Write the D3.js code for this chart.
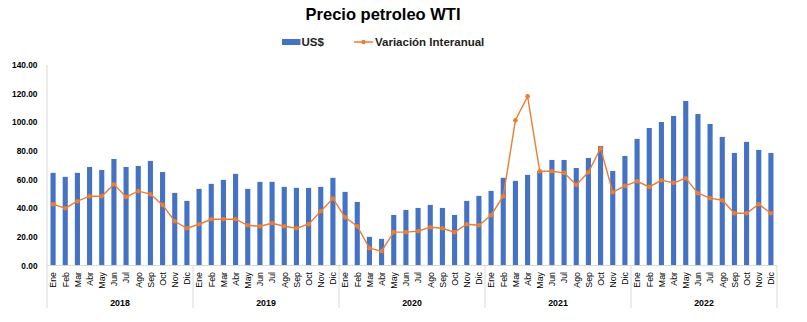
<!DOCTYPE html>
<html><head><meta charset="utf-8">
<script src="https://cdn.jsdelivr.net/npm/d3@7"></script>
<style>
html,body{margin:0;padding:0;background:#fff;}
svg{display:block;font-family:"Liberation Sans",Arial,sans-serif;}
</style></head>
<body><div id="chart"></div>
<script>
const years = ["2018","2019","2020","2021","2022"];
const months = ["Ene","Feb","Mar","Abr","May","Jun","Jul","Ago","Sep","Oct","Nov","Dic"];
const priceUSD = [
  64.7,61.9,64.7,68.8,66.7,74.4,68.8,69.5,73.0,65.3,50.7,45.1,
  53.5,57.0,59.8,64.0,53.5,58.4,58.4,54.9,54.2,54.2,54.9,61.2,
  51.4,44.4,20.0,18.6,35.3,38.8,40.2,42.3,40.2,35.3,45.1,48.6,
  52.1,61.2,59.1,63.3,66.0,73.7,73.7,68.1,75.1,83.5,66.0,76.5,
  88.4,96.0,100.2,104.4,114.9,105.8,98.8,89.8,78.6,86.3,80.7,78.6
];
const variacion = [
  42.8,40.0,44.9,48.4,48.4,56.7,47.9,51.9,49.8,42.3,30.9,26.0,
  28.8,32.3,32.3,32.3,28.1,27.4,29.5,27.4,26.0,28.8,37.9,46.7,
  33.7,27.4,12.1,10.0,23.3,23.3,24.0,26.7,26.0,23.3,28.8,28.1,
  35.1,48.4,101.4,118.1,65.8,65.8,64.7,56.3,65.1,81.9,51.2,55.6,
  58.8,54.9,59.5,57.7,60.9,50.5,47.0,45.6,36.5,36.5,42.8,36.5
];
const yTicks = [0,20,40,60,80,100,120,140];

const W = 807, H = 322;
const pL = 47, pR = 777, pT = 65, pB = 265.5;
const blue = "#4472C4", orange = "#ED7D31", grid = "#D9D9D9";

const data = [];
years.forEach((yr,yi)=>months.forEach((m,mi)=>{
  const i = yi*12+mi;
  data.push({key:yr+"-"+m, year:yr, month:m, price:priceUSD[i], vari:variacion[i]});
}));

const svg = d3.select("#chart").append("svg").attr("width",W).attr("height",H);

const x = d3.scaleBand().domain(data.map(d=>d.key)).range([pL,pR]).paddingInner(0.58).paddingOuter(0.29);
const y = d3.scaleLinear().domain([0,140]).range([pB,pT]);

// Title
svg.append("text").attr("x",383).attr("y",20).attr("text-anchor","middle")
  .attr("font-size",16.5).attr("font-weight","bold").attr("fill","#000").text("Precio petroleo WTI");

// Legend
svg.append("rect").attr("x",282).attr("y",39).attr("width",18.5).attr("height",6).attr("fill",blue);
svg.append("text").attr("x",301.5).attr("y",46).attr("font-size",11.5).attr("font-weight","bold").attr("fill","#222").text("US$");
svg.append("line").attr("x1",354).attr("x2",373).attr("y1",42).attr("y2",42).attr("stroke",orange).attr("stroke-width",1.5);
svg.append("circle").attr("cx",363.5).attr("cy",42).attr("r",2.2).attr("fill",orange);
svg.append("text").attr("x",375).attr("y",46).attr("font-size",11.5).attr("font-weight","bold").attr("fill","#222").text("Variación Interanual");

// Y axis
const yAxis = d3.axisLeft(y).tickValues(yTicks).tickFormat(d3.format(".2f")).tickSize(0).tickPadding(9.5);
const gy = svg.append("g").attr("transform",`translate(${pL},0)`).call(yAxis);
gy.select(".domain").remove();
gy.selectAll("text").attr("font-size",8.3).attr("font-weight","bold").attr("fill","#000").attr("font-family","Liberation Sans, Arial, sans-serif");

// bars
svg.append("g").selectAll("rect").data(data).join("rect")
  .attr("x",d=>x(d.key)).attr("width",x.bandwidth())
  .attr("y",d=>y(d.price)).attr("height",d=>y(0)-y(d.price)).attr("fill",blue);

// axis lines
svg.append("line").attr("x1",pL).attr("x2",pR).attr("y1",pB).attr("y2",pB).attr("stroke",grid).attr("stroke-width",1);
svg.append("line").attr("x1",pL).attr("x2",pL).attr("y1",pT).attr("y2",308).attr("stroke",grid).attr("stroke-width",1);

// year separators
const step = x.step();
years.forEach((yr,yi)=>{
  const xe = pL + (yi+1)*12*step;
  svg.append("line").attr("x1",xe).attr("x2",xe).attr("y1",pB).attr("y2",308).attr("stroke",grid).attr("stroke-width",1);
  svg.append("text").attr("x",pL + (yi+0.5)*12*step).attr("y",306).attr("text-anchor","middle")
    .attr("font-size",8.8).attr("font-weight","bold").attr("fill","#000").text(yr);
});

// month labels
const xAxis = d3.axisBottom(x).tickSize(0).tickFormat(k=>k.split("-")[1]);
const gx = svg.append("g").attr("transform",`translate(0,${pB})`).call(xAxis);
gx.select(".domain").remove();
gx.selectAll("text").attr("font-size",8.8).attr("fill","#000")
  .attr("text-anchor","end").attr("transform","rotate(-90)").attr("x",-6.5).attr("y",0.5).attr("dy","0.33em")
  .attr("font-family","Liberation Sans, Arial, sans-serif");

// line
const line = d3.line().x(d=>x(d.key)+x.bandwidth()/2).y(d=>y(d.vari));
svg.append("path").datum(data).attr("d",line).attr("fill","none").attr("stroke",orange).attr("stroke-width",1.4);
svg.append("g").selectAll("circle").data(data).join("circle")
  .attr("cx",d=>x(d.key)+x.bandwidth()/2).attr("cy",d=>y(d.vari)).attr("r",2.3).attr("fill",orange);
</script></body></html>
